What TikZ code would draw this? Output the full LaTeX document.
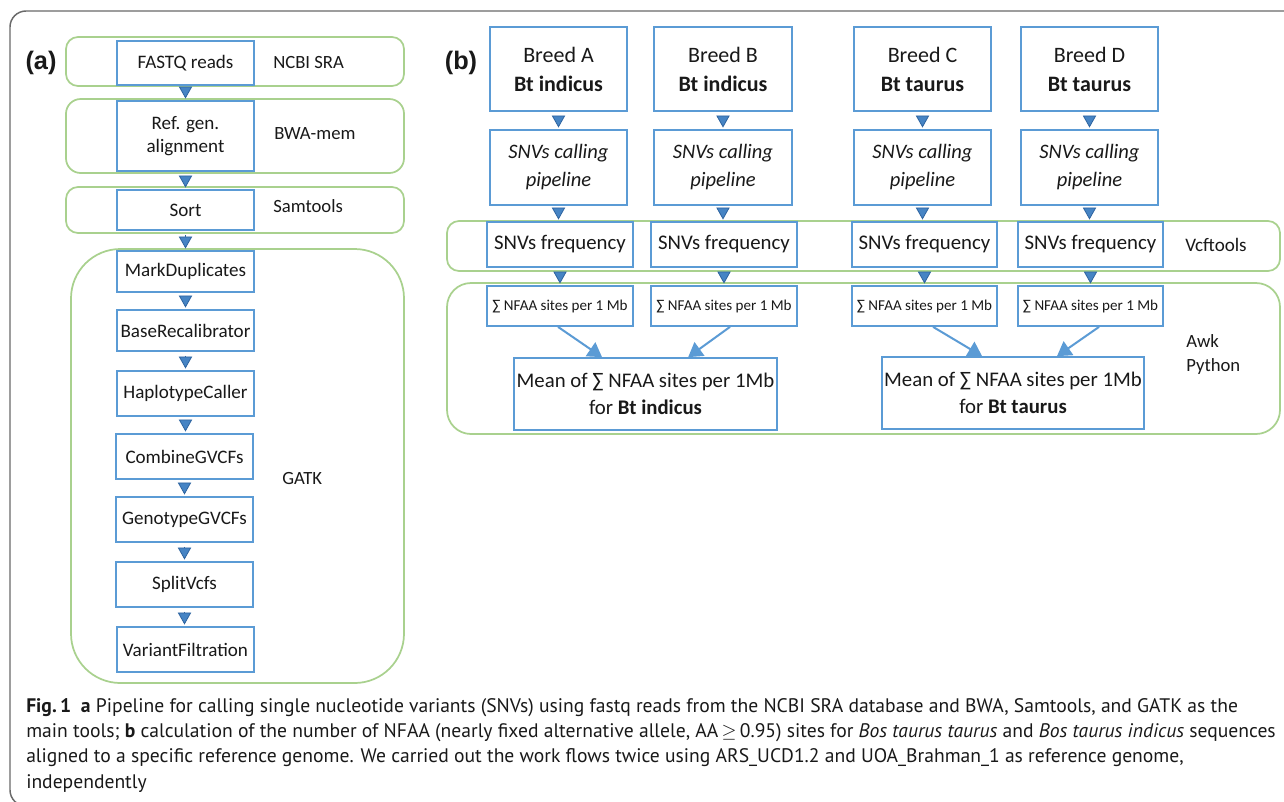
\documentclass[tikz,border=0pt]{standalone}
\usepackage{fontspec}
\setmainfont{Carlito}
\newfontfamily\capfont{PT Sans}
\newfontfamily\labfont{Liberation Sans}
\usetikzlibrary{arrows.meta}
\definecolor{bblue}{RGB}{91,155,213}
\definecolor{ggreen}{RGB}{169,209,142}
\definecolor{trifill}{RGB}{70,132,196}
\definecolor{tridraw}{RGB}{46,100,160}
\definecolor{framegray}{RGB}{105,105,105}
\definecolor{txt}{RGB}{25,25,25}
\begin{document}
\begin{tikzpicture}[x=0.75pt,y=-0.75pt,
  sz/.style 2 args={minimum width=#1*0.75pt, minimum height=#2*0.75pt},
  grp/.style={draw=ggreen, line width=1.3pt, inner sep=0pt},
  box/.style={draw=bblue, line width=1.3pt, fill=white, text=txt, inner sep=0pt, align=center},
  fa/.style={font=\fontsize{14.3pt}{17.25pt}\selectfont},
  fbreed/.style={font=\fontsize{16.5pt}{21.75pt}\selectfont},
  fcall/.style={font=\fontsize{15.4pt}{21pt}\selectfont\itshape},
  ffreq/.style={font=\fontsize{15.6pt}{18pt}\selectfont},
  fsum/.style={font=\fontsize{11.3pt}{12pt}\selectfont},
  fmean/.style={font=\fontsize{15.6pt}{20.25pt}\selectfont},
  tool/.style={text=txt, inner sep=0pt, anchor=west, align=left, font=\fontsize{14pt}{18pt}\selectfont},
  plab/.style={text=txt, inner sep=0pt, font=\labfont\bfseries\fontsize{19pt}{22pt}\selectfont},
  tri/.style={draw=tridraw, line width=0.6pt, -{Triangle[width=10pt,length=9pt,fill=trifill]}, shorten <=3pt, shorten >=1.2pt},
  diag/.style={draw=bblue, line width=1.5pt, -{Triangle[width=12.5pt,length=10.5pt,fill=bblue]}},
  captxt/.style={anchor=base west, inner sep=0pt, text=txt, font=\capfont\fontsize{14.7pt}{19pt}\selectfont}
]
\clip (0,0) rectangle (1284,801);
\fill[white] (0,0) rectangle (1284,801);
\draw[framegray, line width=1.1pt, rounded corners=12pt] (10,11) rectangle (1310,806);

% ---------- panel (a) ----------
\node[plab] (la) at (41,63) {(a)};
\node[grp, sz={338}{49}, rounded corners=9pt] (g1) at (235,61.5) {};
\node[grp, sz={338}{74}, rounded corners=11pt] (g2) at (235,136) {};
\node[grp, sz={338}{46}, rounded corners=9pt] (g3) at (235,210) {};
\node[grp, sz={333}{434}, rounded corners=37pt] (g4) at (237.5,466) {};

\node[box, fa, sz={137}{44}] (fastq) at (185.5,63) {FASTQ reads};
\node[box, fa, sz={137}{70}] (ref) at (185.5,136) {Ref. gen.\\alignment};
\node[box, fa, sz={137}{40}] (sort) at (185.5,210) {Sort};
\node[box, fa, sz={137}{41}] (mark) at (185.5,271.5) {MarkDuplicates};
\node[box, fa, sz={137}{41}] (base) at (185.5,330.5) {BaseRecalibrator};
\node[box, fa, sz={137}{45}] (hap) at (185.5,393.5) {HaplotypeCaller};
\node[box, fa, sz={137}{45}] (comb) at (184.5,456.5) {CombineGVCFs};
\node[box, fa, sz={137}{45}] (geno) at (184.5,519.5) {GenotypeGVCFs};
\node[box, fa, sz={137}{45}] (split) at (184.5,584.5) {SplitVcfs};
\node[box, fa, sz={137}{45}] (var) at (185.5,649.5) {VariantFiltration};

\node[tool] (t1) at (273,63) {NCBI SRA};
\node[tool] (t2) at (274,134) {BWA-mem};
\node[tool] (t3) at (273,206) {Samtools};
\node[tool] (t4) at (282,478) {GATK};

\draw[tri] (fastq) -- (ref);
\draw[tri] (ref) -- (sort);
\draw[tri] (sort) -- (mark);
\draw[tri] (mark) -- (base);
\draw[tri] (base) -- (hap);
\draw[tri] (hap.south) -- (hap.south |- comb.north);
\draw[tri] (comb.south) -- (comb.south |- geno.north);
\draw[tri] (geno.south) -- (geno.south |- split.north);
\draw[tri] (split.south) -- (split.south |- var.north);

% ---------- panel (b) ----------
\node[plab] (lb) at (461,63) {(b)};
\node[grp, sz={833}{50}, rounded corners=9pt] (gv) at (863.5,246) {};
\node[grp, sz={833}{151}, rounded corners=18pt] (ga) at (863.5,358.5) {};

\node[box, fbreed, sz={137}{84}] (bA) at (558.5,69) {Breed A\\\textbf{Bt indicus}};
\node[box, fbreed, sz={138}{84}] (bB) at (723,69) {Breed B\\\textbf{Bt indicus}};
\node[box, fbreed, sz={137}{84}] (bC) at (922.5,69) {Breed C\\\textbf{Bt taurus}};
\node[box, fbreed, sz={137}{84}] (bD) at (1089.5,69) {Breed D\\\textbf{Bt taurus}};

\node[box, fcall, sz={137}{75}] (cA) at (558.5,167.5) {SNVs calling\\pipeline};
\node[box, fcall, sz={138}{75}] (cB) at (723,167.5) {SNVs calling\\pipeline};
\node[box, fcall, sz={137}{75}] (cC) at (922.5,167.5) {SNVs calling\\pipeline};
\node[box, fcall, sz={137}{75}] (cD) at (1089.5,167.5) {SNVs calling\\pipeline};

\node[box, ffreq, sz={146}{45}] (fA) at (560,244.5) {SNVs frequency};
\node[box, ffreq, sz={146}{45}] (fB) at (724,244.5) {SNVs frequency};
\node[box, ffreq, sz={145}{45}] (fC) at (924.5,244.5) {SNVs frequency};
\node[box, ffreq, sz={145}{45}] (fD) at (1090.5,244.5) {SNVs frequency};

\node[box, fsum, sz={146}{40}] (sA) at (560,306) {∑ NFAA sites per 1 Mb};
\node[box, fsum, sz={146}{40}] (sB) at (724,306) {∑ NFAA sites per 1 Mb};
\node[box, fsum, sz={145}{40}] (sC) at (924.5,306) {∑ NFAA sites per 1 Mb};
\node[box, fsum, sz={145}{40}] (sD) at (1090.5,306) {∑ NFAA sites per 1 Mb};

\node[box, fmean, sz={263}{72}] (mL) at (645.5,394) {Mean of ∑ NFAA sites per 1Mb\\for \textbf{Bt indicus}};
\node[box, fmean, sz={262}{72}] (mR) at (1013,393) {Mean of ∑ NFAA sites per 1Mb\\for \textbf{Bt taurus}};

\node[tool, font=\fontsize{14.3pt}{18pt}\selectfont] (t5) at (1185,245) {Vcftools};
\node[tool] (t6) at (1186,355) {Awk\\Python};

\foreach \k in {A,B,C,D}{
  \draw[tri] (b\k) -- (c\k);
  \draw[tri] (c\k.south) -- (c\k.south |- f\k.north);
  \draw[tri] (f\k) -- (s\k);
}
\draw[diag] ([xshift=-1.5pt]sA.south) -- ([xshift=-32.6pt]mL.north);
\draw[diag] ([xshift=4.5pt]sB.south) -- ([xshift=32pt]mL.north);
\draw[diag] ([xshift=6.4pt]sC.south) -- ([xshift=-23.2pt]mR.north);
\draw[diag] ([xshift=6.4pt]sD.south) -- ([xshift=33pt]mR.north);

% ---------- caption ----------
\node[captxt] (c1) at (26,712) {\textbf{Fig.\,1}\enspace\textbf{a} Pipeline for calling single nucleotide variants (SNVs) using fastq reads from the NCBI SRA database and BWA, Samtools, and GATK as the};
\node[captxt] (c2) at (26,737) {main tools; \textbf{b} calculation of the number of NFAA (nearly fixed alternative allele, AA\,$\geq$\,0.95) sites for \textit{Bos taurus taurus} and \textit{Bos taurus indicus} sequences};
\node[captxt] (c3) at (26,762.5) {aligned to a specific reference genome. We carried out the work flows twice using ARS\_UCD1.2 and UOA\_Brahman\_1 as reference genome,};
\node[captxt] (c4) at (26,788) {independently};
\end{tikzpicture}
\end{document}
